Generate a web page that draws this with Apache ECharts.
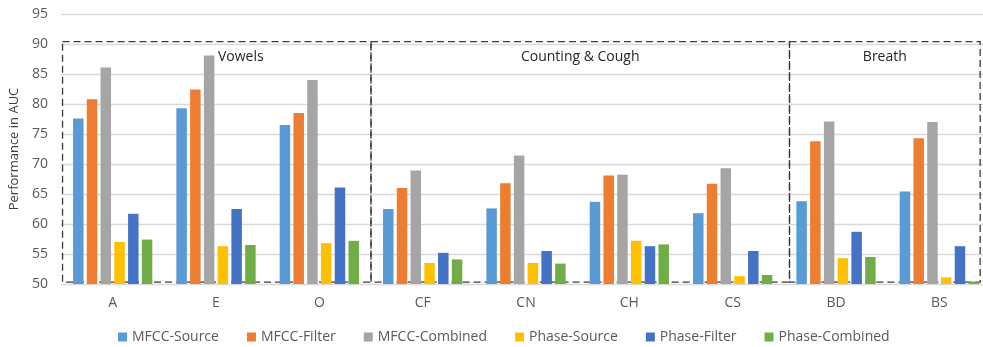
<!DOCTYPE html>
<html>
<head>
<meta charset="utf-8">
<script src="https://cdn.jsdelivr.net/npm/echarts@6/dist/echarts.min.js"></script>
<style>
  html, body { margin: 0; padding: 0; background: #fff; overflow: hidden; }
  /* the plot runs slightly past the right edge of the page, so the canvas is a bit wider */
  #chart { width: 995px; height: 347px; }
</style>
</head>
<body>
<div id="chart"></div>
<script>
// Recording types on the x axis
const categories = ['A', 'E', 'O', 'CF', 'CN', 'CH', 'CS', 'BD', 'BS'];

// AUC (%) per feature set
const mfccSource   = [77.6, 79.3, 76.5, 62.5, 62.6, 63.7, 61.8, 63.8, 65.4];
const mfccFilter   = [80.8, 82.4, 78.5, 66.0, 66.8, 68.1, 66.7, 73.8, 74.3];
const mfccCombined = [86.1, 88.1, 84.0, 68.9, 71.4, 68.2, 69.3, 77.1, 77.0];
const phaseSource  = [57.0, 56.3, 56.8, 53.5, 53.5, 57.2, 51.3, 54.3, 51.1];
const phaseFilter  = [61.7, 62.5, 66.1, 55.2, 55.5, 56.3, 55.5, 58.7, 56.3];
const phaseCombined= [57.4, 56.5, 57.2, 54.1, 53.4, 56.6, 51.5, 54.5, 50.4];

const seriesNames = ['MFCC-Source', 'MFCC-Filter', 'MFCC-Combined', 'Phase-Source', 'Phase-Filter', 'Phase-Combined'];
const seriesValues = [mfccSource, mfccFilter, mfccCombined, phaseSource, phaseFilter, phaseCombined];
const colors = ['#5B9BD5', '#ED7D31', '#A5A5A5', '#FFC000', '#4472C4', '#70AD47'];

// Dashed group frames, in band units along the category axis
const groupNames = ['Vowels', 'Counting & Cough', 'Breath'];
const groupSpans = [[0.015, 3], [3, 7.05], [7.05, 8.895]];
const groupTop = 90.4;
const groupBottom = 50.3;

const font = 'Open Sans, Noto Sans, sans-serif';
const textColor = '#595959';

const chart = echarts.init(document.getElementById('chart'));

const barSeries = seriesNames.map((name, i) => ({
  name: name,
  type: 'bar',
  xAxisIndex: 0,
  yAxisIndex: 0,
  barWidth: 10.5,
  barGap: '31%',
  itemStyle: { color: colors[i] },
  data: seriesValues[i]
}));

const frameSeries = {
  name: 'frames',
  type: 'line',
  xAxisIndex: 1,
  yAxisIndex: 0,
  data: [[0, groupBottom]],
  symbol: 'none',
  lineStyle: { opacity: 0 },
  silent: true,
  z: 5,
  markArea: {
    silent: true,
    itemStyle: {
      color: 'rgba(0,0,0,0)',
      borderColor: '#3a3a3a',
      borderWidth: 1.3,
      borderType: [7, 4]
    },
    label: {
      show: true,
      position: 'insideTop',
      distance: 9,
      fontFamily: font,
      fontSize: 14,
      color: '#262626'
    },
    data: groupSpans.map((span, i) => [
      { name: groupNames[i], xAxis: span[0], yAxis: groupTop,
        label: i === 0 ? { offset: [24, 0] } : {} },
      { xAxis: span[1], yAxis: groupBottom }
    ])
  }
};

chart.setOption({
  animation: false,
  color: colors,
  grid: { left: 61, right: 4, top: 14, bottom: 63, containLabel: false },
  legend: {
    data: seriesNames,
    left: 113,
    top: 325,
    itemWidth: 9,
    itemHeight: 9,
    itemGap: 28,
    icon: 'rect',
    textStyle: { fontFamily: font, fontSize: 14, color: textColor }
  },
  xAxis: [
    {
      type: 'category',
      data: categories,
      axisLine: { show: false },
      axisTick: { show: false },
      axisLabel: { fontFamily: font, fontSize: 14, color: textColor, margin: 12 }
    },
    {
      type: 'value',
      min: 0,
      max: 9,
      show: false
    }
  ],
  yAxis: {
    type: 'value',
    min: 50,
    max: 95,
    interval: 5,
    name: 'Performance in AUC',
    nameLocation: 'middle',
    nameGap: 38,
    nameTextStyle: { fontFamily: font, fontSize: 13, color: '#404040' },
    axisLine: { show: false },
    axisTick: { show: false },
    axisLabel: { fontFamily: font, fontSize: 14, color: textColor, margin: 13 },
    splitLine: { lineStyle: { color: '#d9d9d9', width: 1.3 } }
  },
  series: barSeries.concat([frameSeries])
});
</script>
</body>
</html>
